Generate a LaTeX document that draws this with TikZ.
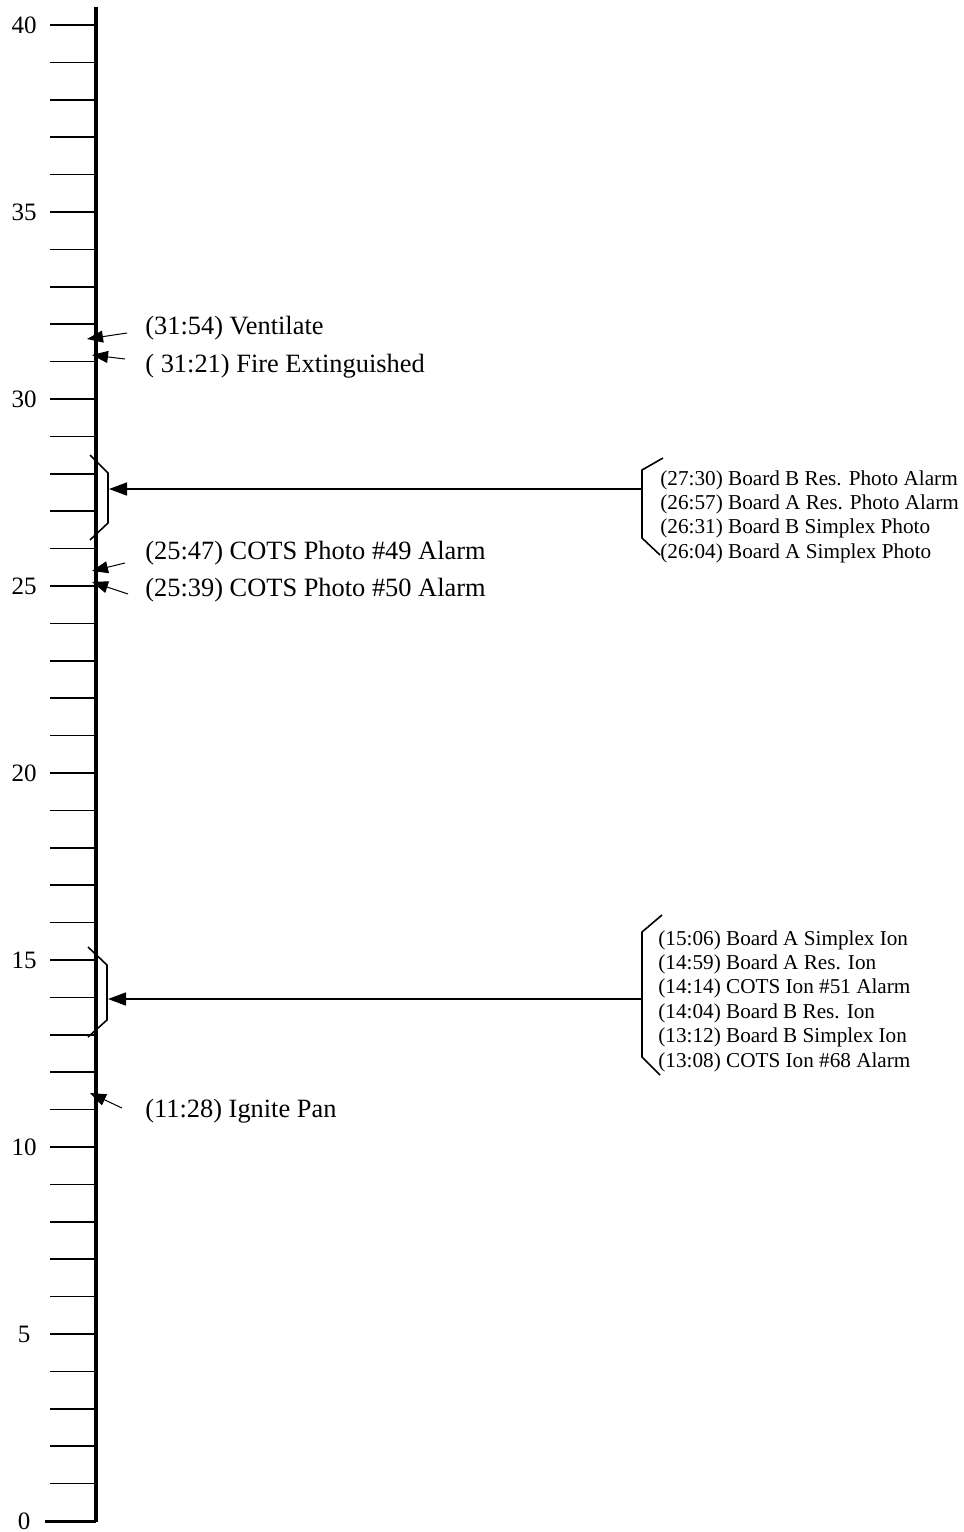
\documentclass[tikz,border=0pt]{standalone}
\usepackage{fontspec}
\setmainfont{Liberation Serif}
\usetikzlibrary{arrows.meta}
\begin{document}
\begin{tikzpicture}[x=0.5pt,y=-0.5pt,
 tickline/.style={line width=0.8pt},
 axisline/.style={line width=2pt},
 ticklabel/.style={font=\fontsize{12.5}{14}\selectfont, anchor=center, inner sep=0pt},
 evlabel/.style={font=\fontsize{13.2}{15}\selectfont, anchor=west, inner sep=0pt},
 grplabel/.style={font=\fontsize{10.6}{12.2}\selectfont, anchor=west, align=left, inner sep=0pt},
 pointer/.style={line width=0.5pt, -{Triangle[length=8pt,width=6pt]}},
 mainarrow/.style={line width=0.8pt, -{Triangle[length=9pt,width=6.5pt]}},
 bracket/.style={line width=0.8pt},
 ]
\useasboundingbox (0,0) rectangle (964,1532);
% ticks
\foreach \v in {1,...,40} \draw[tickline] (50,{1521-\v*37.4}) -- (96,{1521-\v*37.4});
\draw[line width=1.5pt] (45,1521) -- (96,1521);
% axis
\coordinate (axtop) at (96,7);
\coordinate (axbot) at (96,1522);
\draw[axisline] (axtop) -- (axbot);
% tick labels
\foreach \v in {0,5,...,40} \node[ticklabel] (t\v) at (24,{1521-\v*37.4}) {\v};
% single events
\node[evlabel] (vent) at (145,328) {(31:54) Ventilate};
\node[evlabel] (fire) at (145,366) {( 31:21) Fire Extinguished};
\node[evlabel] (p49) at (145,553) {(25:47) COTS Photo \#49 Alarm};
\node[evlabel] (p50) at (145,590) {(25:39) COTS Photo \#50 Alarm};
\node[evlabel] (ign) at (145,1111) {(11:28) Ignite Pan};
\coordinate (ventS) at (127,333); \coordinate (ventT) at (87,339);
\coordinate (fireS) at (125,359); \coordinate (fireT) at (92,355);
\coordinate (p49S) at (125,563); \coordinate (p49T) at (92,571);
\coordinate (p50S) at (128,594); \coordinate (p50T) at (92,582);
\coordinate (ignS) at (122,1108); \coordinate (ignT) at (90,1093);
\draw[pointer] (ventS) -- (ventT);
\draw[pointer] (fireS) -- (fireT);
\draw[pointer] (p49S) -- (p49T);
\draw[pointer] (p50S) -- (p50T);
\draw[pointer] (ignS) -- (ignT);
% group 1 (photo)
\node[grplabel] (g1) at (660,516.5) {(27:30) Board B Res. Photo Alarm\\(26:57) Board A Res. Photo Alarm\\(26:31) Board B Simplex Photo\\(26:04) Board A Simplex Photo};
\draw[bracket] (663,458) -- (642,470) -- (642,538) -- (660,555);
\draw[bracket] (90,455) -- (108,473) -- (108,523) -- (90,540);
\coordinate (g1R) at (642,489);
\coordinate (g1L) at (109,489);
\draw[mainarrow] (g1R) -- (g1L);
% group 2 (ion)
\node[grplabel] (g2) at (658,1001) {(15:06) Board A Simplex Ion\\(14:59) Board A Res. Ion\\(14:14) COTS Ion \#51 Alarm\\(14:04) Board B Res. Ion\\(13:12) Board B Simplex Ion\\(13:08) COTS Ion \#68 Alarm};
\draw[bracket] (662,915) -- (642,932) -- (642,1057) -- (660,1075);
\draw[bracket] (88,947) -- (107,965) -- (107,1020) -- (88,1037);
\coordinate (g2R) at (642,999);
\coordinate (g2L) at (108,999);
\draw[mainarrow] (g2R) -- (g2L);
\end{tikzpicture}
\end{document}
